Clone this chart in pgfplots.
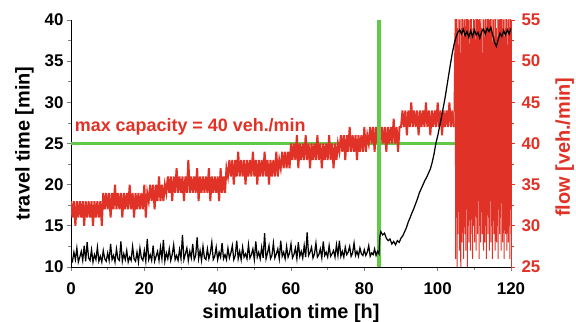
\documentclass[border=0pt]{standalone}
\usepackage{pgfplots}
\pgfplotsset{compat=1.18}
\usepackage{fontspec}
\setmainfont{Liberation Sans}
\definecolor{myred}{RGB}{224,50,38}
\definecolor{mygreen}{RGB}{98,200,72}
\begin{document}
\begin{tikzpicture}
\pgfplotsset{
  base/.style={
    scale only axis, width=440bp, height=247bp,
    xmin=0, xmax=120,
    tick align=outside,
    major tick length=4bp, minor tick length=2.5bp,
    tick label style={font=\bfseries\fontsize{17}{17}\selectfont},
    label style={font=\bfseries\fontsize{20}{20}\selectfont},
    /pgf/number format/assume math mode=true,
    axis line style={-, line width=0.8pt},
    tick style={line width=0.8pt},
  }
}
\path[use as bounding box] (-71bp,-55bp) rectangle (505bp,267bp);
\begin{axis}[base, ymin=10, ymax=40,
  axis x line*=bottom, axis y line*=left,
  xtick={0,20,...,120}, minor x tick num=1,
  ytick={10,15,...,40}, minor y tick num=1,
  xticklabel style={yshift=-8bp},
  xlabel={simulation time [h]}, ylabel={travel time [min]},
  xlabel style={at={(axis description cs:0.5,-0.2065)}, anchor=base},
  ylabel style={at={(axis description cs:-0.094,0.5)}, anchor=base},
  ]
\addplot[mygreen, line width=3.3pt] coordinates {(0,25) (120,25)};
\end{axis}
\begin{axis}[base, ymin=25, ymax=55,
  axis x line=none, axis y line*=right,
  ytick={25,30,...,55}, minor y tick num=1,
  y axis line style={myred}, y tick style={myred},
  yticklabel style={text=myred, xshift=3bp},
  ylabel={flow [veh./min]},
  ylabel style={text=myred, at={(axis description cs:1.134,0.485)}, anchor=base},
  ]
\addplot[myred, line width=2pt] coordinates {
(0,33)(0.4,31)(0.8,33)(1.2,30)(1.6,33)(2,31)(2.4,33)(2.8,31)(3.2,33)(3.6,30)(4,33)(4.4,31)(4.8,33)(5.2,31)(5.6,33)(6,30)(6.4,33)(6.8,31)(7.2,33)(7.6,31)(8,33)(8.4,30)
(8.8,34)(9.2,32)(9.6,34)(10,32)(10.4,34)(10.8,31)(11.2,34)(11.6,32)(12,35)(12.4,32)(12.8,34)(13.2,32)(13.6,34)(14,31)(14.4,34)(14.8,32)(15.2,34)(15.6,32)(16,35)(16.4,32)(16.8,34)(17.2,31)(17.6,34)(18,32)(18.4,34)(18.8,32)(19.2,34)(19.6,32)(20,35)(20.4,31)(20.8,34)
(21.2,33)(21.6,35)(22,33)(22.4,35)(22.8,32)(23.2,35)(23.6,33)(24,36)(24.4,33)(24.8,35)(25.2,33)(25.6,35)
(26,34)(26.4,36)(26.8,34)(27.2,36)(27.6,33)(28,36)(28.4,34)(28.8,37)(29.2,34)(29.6,36)(30,34)(30.4,36)(30.8,33)(31.2,36)(31.6,34)(32,38)(32.4,34)(32.8,36)(33.2,34)(33.6,36)(34,34)(34.4,37)(34.8,33)(35.2,36)(35.6,34)(36,36)(36.4,34)(36.8,36)(37.2,34)(37.6,37)(38,33)(38.4,36)(38.8,34)(39.2,36)(39.6,34)(40,36)(40.4,33)(40.8,37)(41.2,34)(41.6,36)(42,34)(42.4,37)
(42.8,36)(43.2,38)(43.6,36)(44,38)(44.4,35)(44.8,38)(45.2,36)(45.6,39)(46,36)(46.4,38)(46.8,36)(47.2,38)(47.6,35)(48,38)(48.4,36)(48.8,38)(49.2,36)(49.6,39)(50,36)(50.4,38)(50.8,35)(51.2,38)(51.6,36)(52,38)(52.4,36)(52.8,39)(53.2,36)(53.6,38)(54,35)(54.4,38)(54.8,36)(55.2,38)(55.6,36)(56,39)(56.4,36)(56.8,38)
(57.2,37)(57.6,39)(58,37)(58.4,39)(58.8,37)(59.2,39)(59.6,37)
(60,40)(60.4,38)(60.8,40)(61.2,38)(61.6,41)(62,37)(62.4,40)(62.8,38)(63.2,40)(63.6,38)(64,41)(64.4,38)(64.8,40)(65.2,37)(65.6,40)(66,38)(66.4,40)(66.8,38)(67.2,41)(67.6,38)(68,40)(68.4,37)(68.8,40)(69.2,38)(69.6,40)(70,38)(70.4,41)(70.8,38)(71.2,40)(71.6,37)(72,40)(72.4,38)(72.8,40)
(73.2,39)(73.6,41)(74,39)(74.4,41)(74.8,38)(75.2,41)(75.6,39)(76,42)(76.4,39)(76.8,41)(77.2,39)(77.6,41)(78,38)(78.4,41)(78.8,39)(79.2,41)(79.6,39)(80,42)(80.4,39)(80.8,41)
(81.2,40)(81.6,42)(82,40)(82.4,42)(82.8,39)(83.2,42)(83.6,40)(84,43)(84.4,40)(84.8,42)(85.2,40)(85.6,42)(86,39)(86.4,42)(86.8,40)(87.2,42)(87.6,40)(88,43)(88.4,40)(88.8,42)(89.2,39)(89.6,42)
(90,42)(90.4,44)(90.8,42)(91.2,44)(91.6,41)(92,44)(92.4,42)(92.8,45)(93.2,42)(93.6,44)(94,42)(94.4,44)(94.8,41)(95.2,44)(95.6,42)(96,44)(96.4,42)(96.8,45)(97.2,42)(97.6,44)(98,41)(98.4,44)(98.8,42)(99.2,44)(99.6,42)(100,45)(100.4,42)(100.8,44)(101.2,41)(101.6,44)(102,42)(102.4,44)(102.8,42)(103.2,45)(103.6,42)(104,44)(104.4,42)
};
\addplot[myred, line width=1pt] coordinates {
(104.4,42)(104.8,56)(104.9,26)(105,53)(105.1,31)(105.2,57)(105.3,25)(105.4,54)(105.5,29)(105.6,52)(105.7,33)(105.8,58)(105.9,27)(106,55)(106.1,30)(106.2,51)(106.3,24)(106.4,56)(106.5,32)(106.6,54)(106.7,28)
(106.8,57)(106.9,31)(107,53)(107.1,26)(107.2,55)(107.3,34)(107.4,58)(107.5,29)(107.6,52)(107.7,27)(107.8,56)(107.9,32)(108,54)(108.1,25)(108.2,57)(108.3,30)(108.4,53)(108.5,28)(108.6,55)(108.7,33)
(108.8,51)(108.9,27)(109,56)(109.1,31)(109.2,58)(109.3,29)(109.4,54)(109.5,26)(109.6,53)(109.7,32)(109.8,57)(109.9,30)(110,55)(110.1,28)(110.2,52)(110.3,34)(110.4,56)(110.5,27)(110.6,54)(110.7,31)
(110.8,58)(110.9,29)(111,53)(111.1,33)(111.2,55)(111.3,26)(111.4,57)(111.5,30)(111.6,52)(111.7,28)(111.8,56)(111.9,32)(112,54)(112.1,29)(112.2,51)(112.3,31)(112.4,57)(112.5,27)(112.6,55)(112.7,33)
(112.8,53)(112.9,28)(113,58)(113.1,30)(113.2,54)(113.3,26)(113.4,56)(113.5,32)(113.6,52)(113.7,29)(113.8,57)(113.9,31)(114,55)(114.1,27)(114.2,53)(114.3,33)(114.4,56)(114.5,28)(114.6,54)(114.7,30)
(114.8,58)(114.9,26)(115,52)(115.1,32)(115.2,55)(115.3,29)(115.4,57)(115.5,31)(115.6,53)(115.7,27)(115.8,56)(115.9,34)(116,54)(116.1,28)(116.2,51)(116.3,30)(116.4,57)(116.5,26)(116.6,55)(116.7,32)
(116.8,53)(116.9,29)(117,58)(117.1,31)(117.2,54)(117.3,27)(117.4,56)(117.5,33)(117.6,52)(117.7,28)(117.8,57)(117.9,30)(118,55)(118.1,26)(118.2,53)(118.3,32)(118.4,56)(118.5,29)(118.6,54)(118.7,31)
(118.8,58)(118.9,27)(119,52)(119.1,33)(119.2,55)(119.3,28)(119.4,57)(119.5,30)(119.6,53)(119.7,26)(119.8,56)(119.9,32)(120,54)(120.1,29)(120.2,55)(120.3,31)
};
\addplot[mygreen, line width=3.3pt] coordinates {(84,25) (84,55)};
\end{axis}
\begin{axis}[base, ymin=10, ymax=40, hide axis]
\addplot[black, line width=1.25pt] coordinates {
(0,11.0)(0.4,10.7)(0.8,11.8)(1.2,10.9)(1.6,12.3)(2,10.6)(2.4,11.2)(2.8,11.9)(3.2,10.8)(3.6,12.6)
(4,10.7)(4.4,13.0)(4.8,11.1)(5.2,10.8)(5.6,12.1)(6,10.6)(6.4,11.5)(6.8,10.9)(7.2,12.4)(7.6,10.7)
(8,11.3)(8.4,10.6)(8.8,12.0)(9.2,11.0)(9.6,10.7)(10,11.7)(10.4,10.8)(10.8,12.8)(11.2,10.9)(11.6,11.4)
(12,10.6)(12.4,12.2)(12.8,11.0)(13.2,10.8)(13.6,13.1)(14,10.7)(14.4,11.6)(14.8,10.9)(15.2,12.0)(15.6,10.6)
(16,11.2)(16.4,10.8)(16.8,12.5)(17.2,11.0)(17.6,10.7)(18,11.8)(18.4,10.6)(18.8,12.3)(19.2,11.1)(19.6,10.8)
(20,12.0)(20.4,10.7)(20.8,13.4)(21.2,10.9)(21.6,11.5)(22,10.8)(22.4,12.6)(22.8,10.7)(23.2,11.3)(23.6,11.9)
(24,10.8)(24.4,12.4)(24.8,11.0)(25.2,13.3)(25.6,10.7)(26,11.7)(26.4,11.0)(26.8,12.2)(27.2,10.8)(27.6,11.5)
(28,12.7)(28.4,10.9)(28.8,11.4)(29.2,10.8)(29.6,12.1)(30,11.0)(30.4,13.9)(30.8,10.9)(31.2,11.6)(31.6,12.3)
(32,10.8)(32.4,11.9)(32.8,11.1)(33.2,12.8)(33.6,10.9)(34,11.4)(34.4,13.6)(34.8,11.0)(35.2,12.0)(35.6,10.8)
(36,12.5)(36.4,11.1)(36.8,10.9)(37.2,12.2)(37.6,11.0)(38,11.7)(38.4,13.0)(38.8,10.9)(39.2,11.3)(39.6,12.4)
(40,10.9)(40.4,11.8)(40.8,11.2)(41.2,12.9)(41.6,11.0)(42,11.5)(42.4,10.9)(42.8,12.3)(43.2,11.1)(43.6,11.7)
(44,12.6)(44.4,10.9)(44.8,11.4)(45.2,13.2)(45.6,11.0)(46,11.9)(46.4,10.9)(46.8,12.4)(47.2,11.2)(47.6,11.6)
(48,11.0)(48.4,12.7)(48.8,11.1)(49.2,11.5)(49.6,12.2)(50,10.9)(50.4,13.1)(50.8,11.2)(51.2,11.8)(51.6,11.0)
(52,12.4)(52.4,11.1)(52.8,14.1)(53.2,11.0)(53.6,11.7)(54,12.6)(54.4,11.0)(54.8,11.4)(55.2,12.9)(55.6,11.1)
(56,11.6)(56.4,12.2)(56.8,11.0)(57.2,13.2)(57.6,11.3)(58,11.8)(58.4,11.0)(58.8,12.5)(59.2,11.2)(59.6,11.7)
(60,12.8)(60.4,11.1)(60.8,11.5)(61.2,12.3)(61.6,11.0)(62,13.0)(62.4,11.3)(62.8,11.9)(63.2,11.1)(63.6,12.6)
(64,11.2)(64.4,14.2)(64.8,11.4)(65.2,11.8)(65.6,12.4)(66,11.1)(66.4,11.6)(66.8,12.9)(67.2,11.2)(67.6,11.5)
(68,12.2)(68.4,11.1)(68.8,13.1)(69.2,11.4)(69.6,11.8)(70,11.2)(70.4,12.6)(70.8,11.3)(71.2,11.6)(71.6,12.0)
(72,11.2)(72.4,12.7)(72.8,11.4)(73.2,13.2)(73.6,11.3)(74,11.9)(74.4,11.2)(74.8,12.4)(75.2,11.5)(75.6,11.8)
(76,12.5)(76.4,11.3)(76.8,11.7)(77.2,12.9)(77.6,11.4)(78,11.9)(78.4,11.3)(78.8,12.3)(79.2,11.6)(79.6,11.4)
(80,12.1)(80.4,11.4)(80.8,11.8)(81.2,12.6)(81.6,11.3)(82,11.7)(82.4,11.5)(82.8,12.2)(83.2,11.4)(83.6,11.9)
(84,11.6)(84.2,13.6)(84.5,14.3)(85,13.9)(85.5,14.1)(86,13.5)(86.5,13.2)(87,13.4)(87.5,12.8)(88,13.1)(88.5,12.7)(89,13.2)(89.5,13.0)
(90,13.5)(90.5,13.8)(91,14.3)(91.5,14.8)(92,15.5)(92.5,16.0)(93,16.6)(93.5,17.1)(94,17.7)(94.5,18.3)(95,19.0)(95.5,19.5)(96,20.0)(96.5,20.5)(97,20.9)(97.5,21.4)(98,21.9)(98.5,22.7)(99,23.7)(99.5,25.0)
(100,25.9)(100.5,27.0)(101,28.1)(101.5,29.3)(102,30.5)(102.5,31.9)(103,33.3)(103.5,34.7)(104,36.0)(104.5,37.1)(105,37.9)(105.5,38.5)(106,38.8)(106.5,38.3)(107,38.9)(107.5,38.1)(108,38.6)(108.5,37.9)(109,38.7)(109.5,38.0)
(110,38.8)(110.5,38.2)(111,38.5)(111.5,37.8)(112,38.6)(112.5,38.9)(113,38.3)(113.5,39.0)(114,38.6)(114.5,39.1)(115,38.2)(115.5,37.3)(116,36.8)(116.5,37.6)(117,38.4)(117.5,38.0)(118,38.7)(118.5,38.2)(119,38.8)(119.5,38.3)(120,39.0)
};
\node[anchor=base west, text=myred, font=\bfseries\fontsize{18}{18}\selectfont, inner sep=0pt] at (axis cs:1,26.4) {max capacity = 40 veh./min};
\end{axis}
\end{tikzpicture}
\end{document}
